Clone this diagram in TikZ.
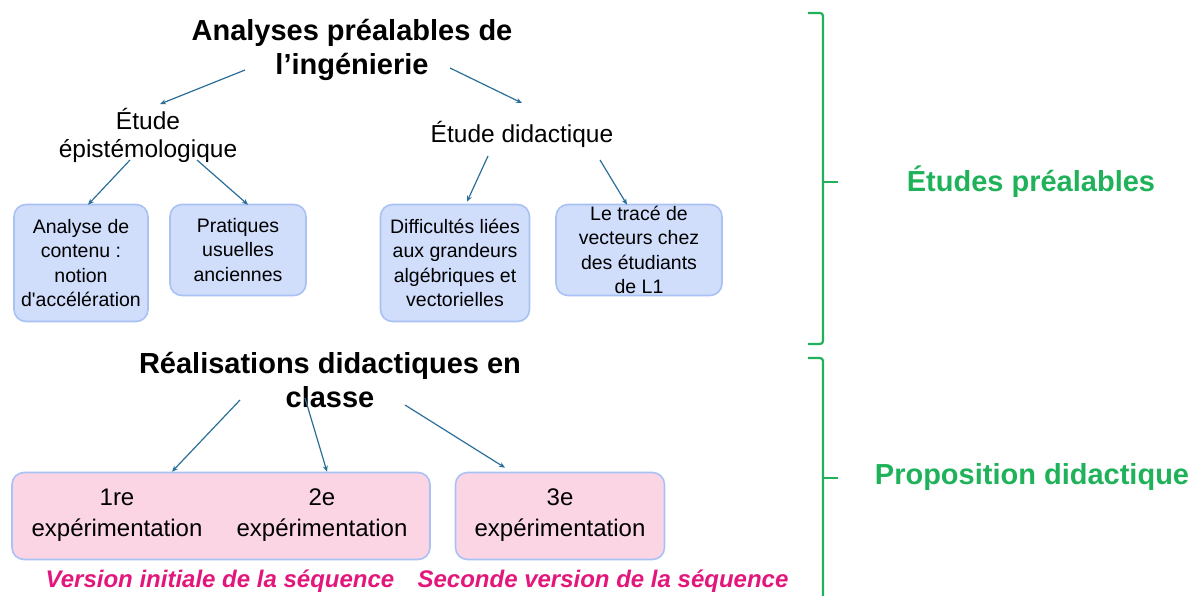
\documentclass[tikz,border=0pt]{standalone}
\usepackage{fontspec}
\setmainfont{Liberation Sans}[Ligatures=TeXOff]
\usetikzlibrary{arrows.meta}
\definecolor{arrowc}{HTML}{2B6F98}
\definecolor{bluefill}{HTML}{D0DDFB}
\definecolor{blueline}{HTML}{A8C2F4}
\definecolor{pinkfill}{HTML}{FBD5E4}
\definecolor{greenc}{HTML}{1FB25A}
\definecolor{magc}{HTML}{E3177B}
\tikzset{
  arr/.style={draw=arrowc, line width=1.2pt, -{Stealth[length=6pt,width=5pt]}},
  bluebox/.style={draw=blueline, line width=1.6pt, fill=bluefill, rounded corners=12pt, inner sep=0pt, align=center, font=\fontsize{19.5}{24.5}\selectfont},
  pinkbox/.style={draw=blueline, line width=1.6pt, fill=pinkfill, rounded corners=12pt, inner sep=0pt},
  headtxt/.style={align=center, font=\fontsize{29}{34.5}\selectfont\bfseries},
  subtxt/.style={align=center, font=\fontsize{24.5}{28}\selectfont},
  exptxt/.style={align=center, font=\fontsize{24}{31}\selectfont},
  vtxt/.style={text=magc, font=\fontsize{24}{28}\selectfont\bfseries\itshape},
  greentxt/.style={text=greenc, font=\fontsize{29}{34}\selectfont\bfseries},
  brace/.style={draw=greenc, line width=2.2pt, rounded corners=3pt}
}
\begin{document}
\begin{tikzpicture}[x=1pt,y=-1pt]
\useasboundingbox (0,0) rectangle (1199,595);
% headings
\node[headtxt] (title) at (352,50) {Analyses préalables de\\l’ingénierie};
\node[subtxt] (epi) at (148,135) {Étude\\épistémologique};
\node[subtxt] (did) at (522,134) {Étude didactique};
% blue boxes
\node[bluebox, minimum width=134pt, minimum height=117pt] (b1) at (81,263) {Analyse de\\contenu :\\notion\\d'accélération};
\node[bluebox, minimum width=136pt, minimum height=91pt] (b2) at (238,250) {Pratiques\\usuelles\\anciennes};
\node[bluebox, minimum width=149pt, minimum height=117pt] (b3) at (455,263) {Difficultés liées\\aux grandeurs\\algébriques et\\vectorielles};
\node[bluebox, minimum width=166pt, minimum height=91pt] (b4) at (639,250) {Le tracé de\\vecteurs chez\\des étudiants\\de L1};
% realisations
\node[headtxt] (real) at (330,380) {Réalisations didactiques en\\classe};
\node[pinkbox, minimum width=418pt, minimum height=87pt] (p1) at (221,516) {};
\node[pinkbox, minimum width=209pt, minimum height=87pt] (p2) at (560,516) {};
\node[exptxt] (e1) at (117,515) {1re\\expérimentation};
\node[exptxt] (e2) at (322,515) {2e\\expérimentation};
\node[exptxt] (e3) at (560,515) {3e\\expérimentation};
\node[vtxt] (v1) at (220,581) {Version initiale de la séquence};
\node[vtxt] (v2) at (603,581) {Seconde version de la séquence};
% arrows
\draw[arr] ([shift={(-107,20)}]title.center) -- ([shift={(12,-31)}]epi.center);
\draw[arr] ([shift={(98,18)}]title.center) -- ([shift={(0,-31)}]did.center);
\draw[arr] ([shift={(-18,25)}]epi.center) -- ([shift={(7,1)}]b1.north);
\draw[arr] ([shift={(49,25)}]epi.center) -- ([shift={(10,1)}]b2.north);
\draw[arr] ([shift={(-34,22)}]did.center) -- ([shift={(12,-2)}]b3.north);
\draw[arr] ([shift={(78,26)}]did.center) -- ([shift={(-12,1)}]b4.north);
\draw[arr] ([shift={(-90,20)}]real.center) -- ([shift={(55,0)}]e1.north |- p1.north);
\draw[arr] ([shift={(-25,18)}]real.center) -- ([shift={(5,0)}]e2.north |- p1.north);
\draw[arr] ([shift={(75,25)}]real.center) -- ([shift={(-55,-4)}]p2.north);
% braces
\coordinate (m1) at (838,182);
\coordinate (m2) at (838,478);
\draw[brace] (808,13) -- (823,13) -- (823,344) -- (808,344);
\draw[brace] (823,182) -- (m1);
\draw[brace] (808,358) -- (823,358) -- (823,600);
\draw[brace] (823,478) -- (m2);
\node[greentxt] (g1) at (1031,182) {Études préalables};
\node[greentxt] (g2) at (1032,477) {Proposition didactique};
\end{tikzpicture}
\end{document}
